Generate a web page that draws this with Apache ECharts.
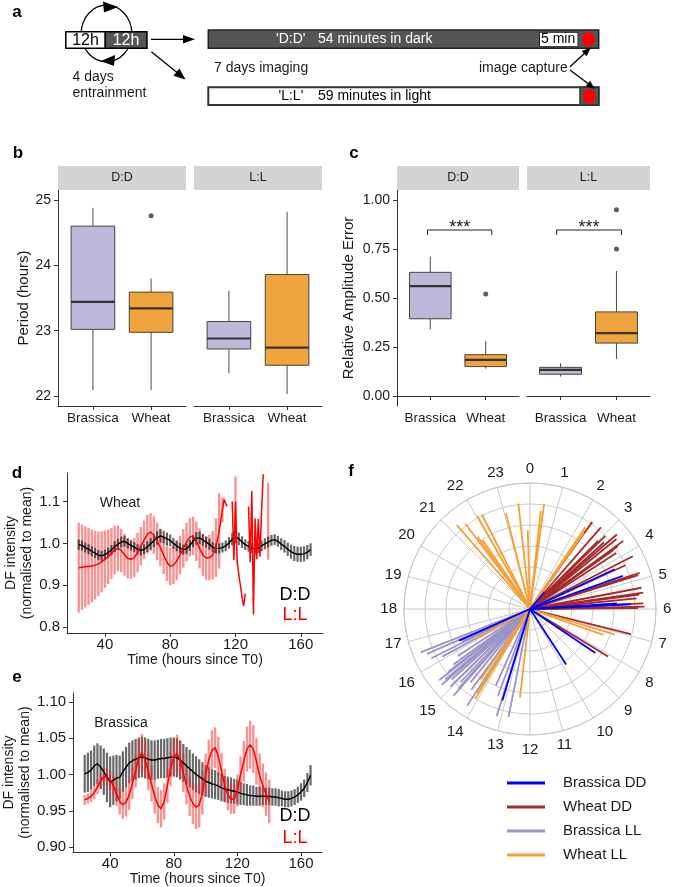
<!DOCTYPE html>
<html><head><meta charset="utf-8">
<script src="https://cdn.jsdelivr.net/npm/echarts@6/dist/echarts.min.js"></script>
<style>html,body{margin:0;padding:0;background:#fff}#c{width:685px;height:887px}</style>
</head><body><div id="c"></div>
<script>
const FONT = "'Liberation Sans', Arial, Helvetica, sans-serif";
const INK = '#1a1a1a';
const AXIS = '#333333';

// ---------- panel b / c : box plots ----------
const boxCats = ['Brassica', 'Wheat'];
const boxFills = ['#BEB7DA', '#EFA43E'];
// [category index, min, Q1, median, Q3, max]
const periodDD = [[1, 22.09, 23.02, 23.44, 24.60, 24.88], [2, 22.09, 22.975, 23.34, 23.59, 23.80]];
const periodLL = [[1, 22.35, 22.72, 22.88, 23.14, 23.61], [2, 22.03, 22.47, 22.74, 23.86, 24.82]];
const periodOutDD = [[2, 24.76]];
const raeDD = [[1, 0.340, 0.394, 0.561, 0.631, 0.711], [2, 0.139, 0.150, 0.184, 0.211, 0.281]];
const raeLL = [[1, 0.099, 0.111, 0.133, 0.146, 0.167], [2, 0.189, 0.270, 0.321, 0.429, 0.638]];
const raeOutDD = [[2, 0.52]];
const raeOutLL = [[2, 0.75], [2, 0.95]];
const sigDD = [[0.95, 2.11, 0.847]];
const sigLL = [[0.93, 2.09, 0.847]];
const sigLabel = '***';
const periodTicks = [22, 23, 24, 25];
const raeTicks = [0, 0.25, 0.5, 0.75, 1];

// ---------- panel d / e : time series [time, mean, error] ----------
const wheatDD = [[24,0.997,0.012],[26,0.995,0.012],[28,0.990,0.012],[30,0.986,0.012],[32,0.981,0.012],[34,0.977,0.012],[36,0.972,0.012],[38,0.970,0.012],[40,0.973,0.012],[42,0.978,0.012],[44,0.984,0.012],[46,0.992,0.013],[48,0.998,0.013],[50,1.003,0.013],[52,1.005,0.013],[54,1.000,0.012],[56,0.995,0.012],[58,0.991,0.012],[60,0.986,0.012],[62,0.983,0.012],[64,0.986,0.012],[66,0.992,0.013],[68,0.999,0.014],[70,1.006,0.015],[72,1.013,0.016],[74,1.018,0.016],[76,1.015,0.015],[78,1.011,0.015],[80,1.007,0.014],[82,1.000,0.013],[84,0.994,0.013],[86,0.989,0.012],[88,0.985,0.012],[90,0.987,0.012],[92,0.995,0.013],[94,1.005,0.014],[96,1.012,0.015],[98,1.013,0.015],[100,1.008,0.014],[102,1.003,0.013],[104,0.998,0.013],[106,0.991,0.012],[108,0.988,0.012],[110,0.988,0.012],[112,0.990,0.012],[114,0.994,0.013],[116,1.001,0.014],[118,1.010,0.015],[120,1.016,0.016],[122,1.011,0.015],[124,1.003,0.014],[126,0.997,0.013],[128,0.993,0.013],[130,0.989,0.012],[132,0.986,0.012],[134,0.989,0.012],[136,0.994,0.013],[138,0.999,0.013],[140,1.003,0.013],[142,1.007,0.013],[144,1.009,0.013],[146,1.005,0.013],[148,0.998,0.014],[150,0.993,0.015],[152,0.986,0.016],[154,0.980,0.017],[156,0.976,0.018],[158,0.974,0.018],[160,0.974,0.018],[162,0.975,0.018],[164,0.979,0.017],[166,0.985,0.015]];
const wheatLL = [[24,0.942,0.107],[26,0.943,0.102],[28,0.944,0.097],[30,0.945,0.092],[32,0.946,0.087],[34,0.948,0.082],[36,0.951,0.077],[38,0.956,0.073],[40,0.962,0.069],[42,0.968,0.065],[44,0.976,0.061],[46,0.984,0.058],[48,0.988,0.055],[50,0.983,0.052],[52,0.973,0.050],[54,0.964,0.048],[56,0.962,0.047],[58,0.966,0.047],[60,0.978,0.047],[62,0.993,0.046],[64,1.008,0.046],[66,1.022,0.046],[68,1.027,0.045],[70,1.020,0.045],[72,1.005,0.045],[74,0.990,0.045],[76,0.972,0.045],[78,0.955,0.045],[80,0.945,0.045],[82,0.948,0.045],[84,0.958,0.046],[86,0.972,0.046],[88,0.988,0.046],[90,1.003,0.046],[92,1.015,0.046],[94,1.018,0.046],[96,1.005,0.047],[98,0.988,0.048],[100,0.972,0.050],[102,0.965,0.052],[104,0.966,0.054],[106,0.972,0.058],[108,0.990,0.070],[110,1.030,0.090],[112,1.080,0.030],[113,1.105,0],[114,1.095,0],[115,1.088,0],[116,null,0],[118,1.100,0],[119,0.960,0],[120,1.100,0.060],[121,0.960,0],[122,0.925,0],[123,0.900,0],[124,0.872,0],[125,0.850,0],[126,0.880,0],[127,null,0],[128,1.088,0],[129,0.955,0],[130,1.125,0],[131,0.830,0],[132,1.060,0],[133,0.962,0],[134,1.058,0],[135,0.968,0],[136,1.080,0],[137,1.165,0],[138,null,0],[140,1.053,0.092]];
const brassicaDD = [[24,1.001,0.026],[26,1.003,0.027],[28,1.006,0.027],[30,1.012,0.028],[32,1.015,0.028],[34,1.010,0.030],[36,1.004,0.032],[38,0.996,0.034],[40,0.990,0.035],[42,0.992,0.034],[44,0.995,0.032],[46,0.996,0.030],[48,1.004,0.028],[50,1.010,0.028],[52,1.016,0.028],[54,1.019,0.028],[56,1.021,0.028],[58,1.023,0.028],[60,1.024,0.028],[62,1.023,0.028],[64,1.021,0.028],[66,1.020,0.027],[68,1.020,0.027],[70,1.021,0.027],[72,1.022,0.027],[74,1.022,0.027],[76,1.023,0.027],[78,1.024,0.027],[80,1.024,0.027],[82,1.023,0.027],[84,1.020,0.027],[86,1.016,0.026],[88,1.012,0.026],[90,1.008,0.026],[92,1.004,0.025],[94,1.000,0.025],[96,0.997,0.024],[98,0.994,0.023],[100,0.991,0.022],[102,0.989,0.021],[104,0.987,0.020],[106,0.986,0.020],[108,0.984,0.019],[110,0.982,0.019],[112,0.980,0.018],[114,0.979,0.018],[116,0.978,0.018],[118,0.977,0.017],[120,0.976,0.017],[122,0.974,0.016],[124,0.973,0.015],[126,0.972,0.015],[128,0.971,0.014],[130,0.971,0.014],[132,0.970,0.013],[134,0.970,0.013],[136,0.970,0.012],[138,0.970,0.012],[140,0.970,0.012],[142,0.969,0.012],[144,0.969,0.012],[146,0.968,0.012],[148,0.967,0.011],[150,0.966,0.011],[152,0.966,0.011],[154,0.967,0.011],[156,0.969,0.011],[158,0.972,0.011],[160,0.976,0.012],[162,0.981,0.012],[164,0.989,0.013],[166,0.999,0.014]];
const brassicaLL = [[24,0.965,0.007],[26,0.967,0.007],[28,0.970,0.008],[30,0.975,0.009],[32,0.983,0.010],[34,0.991,0.011],[36,0.997,0.012],[38,0.997,0.012],[40,0.992,0.013],[42,0.985,0.014],[44,0.973,0.016],[46,0.963,0.018],[48,0.958,0.019],[50,0.962,0.020],[52,0.972,0.021],[54,0.988,0.022],[56,1.005,0.023],[58,1.023,0.024],[60,1.030,0.026],[62,1.020,0.026],[64,1.004,0.025],[66,0.987,0.024],[68,0.970,0.024],[70,0.958,0.025],[72,0.953,0.026],[74,0.963,0.025],[76,0.985,0.024],[78,1.008,0.024],[80,1.024,0.025],[82,1.029,0.026],[84,1.020,0.026],[86,1.002,0.026],[88,0.985,0.026],[90,0.970,0.027],[92,0.960,0.028],[94,0.955,0.030],[96,0.958,0.031],[98,0.975,0.030],[100,1.000,0.029],[102,1.020,0.028],[104,1.033,0.028],[106,1.037,0.028],[108,1.025,0.027],[110,1.005,0.025],[112,0.985,0.023],[114,0.972,0.021],[116,0.966,0.020],[118,0.966,0.020],[120,0.978,0.022],[122,1.000,0.025],[124,1.018,0.028],[126,1.035,0.031],[128,1.041,0.033],[130,1.035,0.033],[132,1.018,0.032],[134,0.998,0.031],[136,0.985,0.030],[138,0.973,0.030],[140,0.963,0.030]];
const timeTicks = [40, 80, 120, 160];
const wheatYTicks = [0.8, 0.9, 1.0, 1.1];
const brassicaYTicks = [0.9, 0.95, 1.0, 1.05, 1.1];

// ---------- panel f : phase (hour) and amplitude ----------
const phaseBrassicaDD = [[2.7,0.21],[4.33,0.89],[4.69,0.94],[5.75,0.83],[5.82,0.96],[8.26,0.75],[9.79,0.63],[13.12,0.91],[16.4,0.74]];
const phaseWheatDD = [[2.37,1.02],[2.73,1.03],[3.0,0.92],[3.06,1.0],[3.2,0.95],[3.29,1.09],[3.4,1.06],[3.59,1.10],[3.63,1.03],[3.65,0.97],[3.8,0.98],[4.19,1.10],[4.36,1.0],[4.78,1.10],[4.8,1.03],[4.84,1.08],[5.28,1.08],[5.45,1.09],[5.5,1.05],[5.62,1.02],[5.81,1.08],[5.92,1.09],[5.97,1.03],[6.93,0.99],[8.09,0.87]];
const phaseBrassicaLL = [[12.75,1.05],[13.15,1.07],[13.35,0.88],[13.6,0.80],[14.2,1.10],[14.4,0.95],[14.6,0.90],[14.76,1.10],[14.8,1.02],[14.9,0.96],[15.05,1.06],[15.2,1.00],[15.29,1.11],[15.35,1.05],[15.46,1.10],[15.5,0.98],[15.6,0.90],[15.8,0.82],[16.1,0.95],[16.23,1.05],[16.3,0.72],[16.43,1.07],[16.56,1.12]];
const phaseWheatLL = [[21.26,1.06],[21.52,1.02],[21.6,0.85],[21.7,0.80],[22.03,1.02],[22.2,1.01],[23.06,0.94],[23.58,1.01],[23.89,0.75],[0.42,0.94],[0.51,1.01],[2.27,0.94],[2.35,0.89],[4.35,0.88],[7.11,0.84],[7.3,0.74],[12.43,0.85],[14.09,1.0],[14.15,0.95],[14.33,0.82],[16.07,0.60]];
const legendNames = ['Brassica DD', 'Wheat DD', 'Brassica LL', 'Wheat LL'];
const legendColors = ['#0000FF', '#A52A2A', '#9A92C8', '#F5A033'];

// ---------- render helpers ----------
function boxRender(params, api) {
  const x = api.value(0);
  const v = [1, 2, 3, 4, 5].map(i => api.value(i));
  const hw = api.size([0.75, 0])[0] / 2;
  const pMin = api.coord([x, v[0]]), pQ1 = api.coord([x, v[1]]), pMed = api.coord([x, v[2]]),
        pQ3 = api.coord([x, v[3]]), pMax = api.coord([x, v[4]]);
  return { type: 'group', children: [
    { type: 'line', shape: { x1: pMax[0], y1: pMax[1], x2: pQ3[0], y2: pQ3[1] }, style: { stroke: '#4a4a4a', lineWidth: 1 } },
    { type: 'line', shape: { x1: pQ1[0], y1: pQ1[1], x2: pMin[0], y2: pMin[1] }, style: { stroke: '#4a4a4a', lineWidth: 1 } },
    { type: 'rect', shape: { x: pQ3[0] - hw, y: pQ3[1], width: 2 * hw, height: pQ1[1] - pQ3[1] }, style: { fill: boxFills[Math.round(x) - 1], stroke: '#444', lineWidth: 1 } },
    { type: 'line', shape: { x1: pMed[0] - hw, y1: pMed[1], x2: pMed[0] + hw, y2: pMed[1] }, style: { stroke: '#333', lineWidth: 2.2 } }
  ]};
}
function bracketRender(params, api) {
  const a = api.coord([api.value(0), api.value(2)]);
  const b = api.coord([api.value(1), api.value(2)]);
  return { type: 'group', children: [
    { type: 'polyline', shape: { points: [[a[0], a[1] + 5], [a[0], a[1]], [b[0], b[1]], [b[0], b[1] + 5]] }, style: { stroke: '#222', lineWidth: 1, fill: null } },
    { type: 'text', x: (a[0] + b[0]) / 2, y: a[1] - 2, style: { text: sigLabel, fill: INK, font: '18px ' + FONT, align: 'center', verticalAlign: 'middle', textAlign: 'center', textVerticalAlign: 'middle' } }
  ]};
}
function makeErr(color, width) {
  return function (params, api) {
    const t = api.value(0), m = api.value(1), e = api.value(2);
    if (isNaN(m) || isNaN(e) || !(e > 0)) return null;
    const p1 = api.coord([t, m - e]), p2 = api.coord([t, m + e]);
    return { type: 'line', shape: { x1: p1[0], y1: p1[1], x2: p2[0], y2: p2[1] }, style: { stroke: color, lineWidth: width } };
  };
}
function spokeRender(params, api) {
  const h = api.value(0), a = api.value(1);
  const p0 = api.coord([0, h]), p1 = api.coord([a, h]);
  return { type: 'line', shape: { x1: p0[0], y1: p0[1], x2: p1[0], y2: p1[1] }, style: { stroke: api.visual('color'), lineWidth: 1.8 } };
}

// ---------- axes ----------
const axLine = { show: true, lineStyle: { color: AXIS, width: 1 } };
function boxX(gi) {
  return { type: 'value', gridIndex: gi, min: 0.4, max: 2.6, axisLine: axLine,
    axisTick: { show: true, customValues: [1, 2], length: 4, lineStyle: { color: AXIS } },
    axisLabel: { customValues: [1, 2], formatter: v => boxCats[Math.round(v) - 1], color: INK, fontSize: 13.5, fontFamily: FONT, margin: 5 },
    splitLine: { show: false } };
}
function valY(gi, min, max, ticks, fmt, show, name, gap, fs) {
  return { type: 'value', gridIndex: gi, min, max, show,
    axisLine: axLine,
    axisTick: { show: true, customValues: ticks, length: 4, lineStyle: { color: AXIS } },
    axisLabel: { customValues: ticks, formatter: fmt, color: INK, fontSize: fs, fontFamily: FONT, margin: 7 },
    splitLine: { show: false },
    name, nameLocation: 'middle', nameGap: gap,
    nameTextStyle: { color: INK, fontSize: name && name.indexOf('\n') >= 0 ? 14 : 15, fontFamily: FONT, lineHeight: 16 } };
}
function timeX(gi, min, max, gap) {
  return { type: 'value', gridIndex: gi, min, max, axisLine: axLine,
    axisTick: { show: true, customValues: timeTicks, length: 4, lineStyle: { color: AXIS } },
    axisLabel: { customValues: timeTicks, color: INK, fontSize: 15, fontFamily: FONT, margin: 4 },
    splitLine: { show: false },
    name: 'Time (hours since T0)', nameLocation: 'middle', nameGap: gap,
    nameTextStyle: { color: INK, fontSize: 14, fontFamily: FONT } };
}

// ---------- decorations (panel a schematic, strips, panel letters, labels) ----------
function txt(x, y, t, size, color, align, bold) {
  return { type: 'text', x, y, z: 10, style: { text: t, fill: color || INK,
    font: (bold ? 'bold ' : '') + size + 'px ' + FONT, align: align || 'left', textAlign: align || 'left',
    verticalAlign: 'middle', textVerticalAlign: 'middle' } };
}
function poly(points, fill) { return { type: 'polygon', z: 10, shape: { points }, style: { fill } }; }
function seg(x1, y1, x2, y2, w) { return { type: 'line', z: 10, shape: { x1, y1, x2, y2 }, style: { stroke: '#000', lineWidth: w || 1.3 } }; }
function box(x, y, w, h, fill, stroke, lw) { return { type: 'rect', z: 9, shape: { x, y, width: w, height: h }, style: { fill, stroke, lineWidth: lw } }; }

const deco = [
  // panel letters
  txt(17, 12, 'a', 17, '#000', 'center', true),
  txt(18, 153, 'b', 17, '#000', 'center', true),
  txt(354, 153, 'c', 17, '#000', 'center', true),
  txt(17, 473, 'd', 17, '#000', 'center', true),
  txt(17, 677, 'e', 17, '#000', 'center', true),
  txt(351, 471, 'f', 17, '#000', 'center', true),
  // panel a: entrainment loop
  { type: 'ellipse', z: 8, shape: { cx: 106.5, cy: 33.5, rx: 25.3, ry: 28.3 }, style: { fill: null, stroke: '#000', lineWidth: 1.2 } },
  poly([[103, 1.5], [104, 12.5], [118, 7]], '#000'),
  poly([[115, 55], [114, 66], [101, 61]], '#000'),
  box(65.8, 31.7, 39.5, 16.6, '#fff', '#000', 1.5),
  box(105.3, 31.7, 41.7, 16.6, '#555', '#000', 1.5),
  txt(85.5, 40.5, '12h', 16, '#000', 'center'),
  txt(126, 40.5, '12h', 16, '#fff', 'center'),
  txt(72.5, 76.7, '4 days', 14, INK),
  txt(72.5, 93.3, 'entrainment', 14, INK),
  seg(151, 39.3, 186, 39.3),
  poly([[183, 35], [183, 43.6], [195, 39.3]], '#000'),
  seg(151.3, 51.7, 178, 73.3),
  poly([[173.4, 75.8], [179.4, 68.4], [185.5, 79.5]], '#000'),
  // D:D bar
  box(208.3, 30, 390.4, 18.3, '#555', '#222', 1.5),
  box(539.5, 32.3, 38.5, 14.4, '#fff', '#222', 1),
  { type: 'ellipse', z: 10, shape: { cx: 588.5, cy: 39.2, rx: 6.3, ry: 7.3 }, style: { fill: '#FF0000' } },
  txt(276, 39.5, "'D:D'", 14, '#fff'),
  txt(318, 39.5, '54 minutes in dark', 14, '#fff'),
  txt(541, 39.5, '5 min', 14, '#000'),
  // L:L bar
  box(208.3, 87.3, 390.4, 17.7, '#fff', '#333', 2),
  box(580, 87.3, 18.7, 17.7, '#555', '#333', 1.5),
  { type: 'ellipse', z: 10, shape: { cx: 589.3, cy: 96.2, rx: 6.3, ry: 7.3 }, style: { fill: '#FF0000' } },
  txt(278.5, 96.2, "'L:L'", 14, '#000'),
  txt(318, 96.2, '59 minutes in light', 14, '#000'),
  txt(214, 68.3, '7 days imaging', 14, INK),
  txt(479, 68.3, 'image capture', 14, INK),
  seg(570, 66.7, 586, 52),
  poly([[586.5, 56.3], [581.7, 51.1], [591, 47.5]], '#000'),
  seg(570, 70, 589, 84.3),
  poly([[585.8, 86.3], [590, 80.7], [595, 89]], '#000'),
  // strips
  box(58, 166, 128, 24, '#D3D3D3', null, 0), txt(122, 178, 'D:D', 12.5, INK, 'center'),
  box(194, 166, 128, 24, '#D3D3D3', null, 0), txt(258, 178, 'L:L', 12.5, INK, 'center'),
  box(397, 166, 122, 24, '#D3D3D3', null, 0), txt(458, 178, 'D:D', 12.5, INK, 'center'),
  box(527, 166, 123, 24, '#D3D3D3', null, 0), txt(588.5, 178, 'L:L', 12.5, INK, 'center'),
  // panel d / e annotations
  txt(120, 503, 'Wheat', 14, INK, 'center'),
  txt(295, 595, 'D:D', 18, '#000', 'center'),
  txt(295, 615, 'L:L', 18, '#FF0000', 'center'),
  txt(121, 723, 'Brassica', 14, INK, 'center'),
  txt(295, 816, 'D:D', 18, '#000', 'center'),
  txt(295, 838, 'L:L', 18, '#FF0000', 'center')
];

const pairs = arr => arr.map(d => [d[0], d[1]]);
const redErr = 'rgba(242,40,40,0.5)';
const blackErr = 'rgba(25,25,25,0.65)';

const option = {
  animation: false,
  backgroundColor: '#fff',
  textStyle: { fontFamily: FONT },
  grid: [
    { left: 58, top: 190, width: 128, height: 216 },
    { left: 194, top: 190, width: 128, height: 216 },
    { left: 397, top: 190, width: 122, height: 216 },
    { left: 527, top: 190, width: 123, height: 216 },
    { left: 67, top: 473, width: 256, height: 160 },
    { left: 64, top: 693, width: 258, height: 161 }
  ],
  xAxis: [boxX(0), boxX(1), boxX(2), boxX(3), timeX(4, 16.8, 173.6, 17), timeX(5, 16.7, 173.2, 18)],
  yAxis: [
    valY(0, 21.847, 25.153, periodTicks, v => String(v), true, 'Period (hours)', 26, 14),
    valY(1, 21.847, 25.153, periodTicks, v => String(v), false, '', 0, 14),
    valY(2, -0.051, 1.051, raeTicks, v => v.toFixed(2), true, 'Relative Amplitude Error', 40, 14),
    valY(3, -0.051, 1.051, raeTicks, v => v.toFixed(2), false, '', 0, 14),
    valY(4, 0.786, 1.168, wheatYTicks, v => v.toFixed(1), true, 'DF intensity\n(normalised to mean)', 32, 15),
    valY(5, 0.8932, 1.1122, brassicaYTicks, v => v.toFixed(2), true, 'DF intensity\n(normalised to mean)', 31, 15)
  ],
  polar: { center: [530, 609], radius: 126 },
  angleAxis: { type: 'value', min: 0, max: 24, interval: 1, startAngle: 90, clockwise: true,
    axisLine: { show: true, lineStyle: { color: '#C8C8C8', width: 1 } },
    axisTick: { show: false },
    splitLine: { show: true, lineStyle: { color: '#C8C8C8', width: 1 } },
    axisLabel: { formatter: v => (v >= 24 ? '' : String(v)), color: INK, fontSize: 15, fontFamily: FONT, margin: 7 } },
  radiusAxis: { type: 'value', min: 0, max: 1.2, interval: 0.2,
    axisLine: { show: false }, axisTick: { show: false }, axisLabel: { show: false },
    splitLine: { show: true, lineStyle: { color: '#C8C8C8', width: 1 } } },
  legend: { orient: 'vertical', left: 502, top: 769, itemWidth: 38, itemHeight: 3, itemGap: 6, icon: 'rect',
    selectedMode: false, data: legendNames,
    textStyle: { fontSize: 15, color: INK, fontFamily: FONT, lineHeight: 18, padding: [0, 0, 0, 13] } },
  graphic: { elements: deco },
  series: [
    // b
    { type: 'custom', xAxisIndex: 0, yAxisIndex: 0, data: periodDD, renderItem: boxRender, encode: { x: 0, y: [1, 2, 3, 4, 5] } },
    { type: 'scatter', xAxisIndex: 0, yAxisIndex: 0, data: periodOutDD, symbolSize: 5, itemStyle: { color: '#333' } },
    { type: 'custom', xAxisIndex: 1, yAxisIndex: 1, data: periodLL, renderItem: boxRender, encode: { x: 0, y: [1, 2, 3, 4, 5] } },
    // c
    { type: 'custom', xAxisIndex: 2, yAxisIndex: 2, data: raeDD, renderItem: boxRender, encode: { x: 0, y: [1, 2, 3, 4, 5] } },
    { type: 'scatter', xAxisIndex: 2, yAxisIndex: 2, data: raeOutDD, symbolSize: 5, itemStyle: { color: '#333' } },
    { type: 'custom', xAxisIndex: 2, yAxisIndex: 2, data: sigDD, renderItem: bracketRender, encode: { x: [0, 1], y: 2 } },
    { type: 'custom', xAxisIndex: 3, yAxisIndex: 3, data: raeLL, renderItem: boxRender, encode: { x: 0, y: [1, 2, 3, 4, 5] } },
    { type: 'scatter', xAxisIndex: 3, yAxisIndex: 3, data: raeOutLL, symbolSize: 5, itemStyle: { color: '#333' } },
    { type: 'custom', xAxisIndex: 3, yAxisIndex: 3, data: sigLL, renderItem: bracketRender, encode: { x: [0, 1], y: 2 } },
    // d
    { type: 'custom', xAxisIndex: 4, yAxisIndex: 4, data: wheatLL, renderItem: makeErr(redErr, 2.4), encode: { x: 0, y: 1 }, clip: true },
    { type: 'custom', xAxisIndex: 4, yAxisIndex: 4, data: wheatDD, renderItem: makeErr(blackErr, 2.2), encode: { x: 0, y: 1 }, clip: true },
    { type: 'line', xAxisIndex: 4, yAxisIndex: 4, data: pairs(wheatDD), showSymbol: false, lineStyle: { color: '#000', width: 1.4 }, itemStyle: { color: '#000' }, connectNulls: false },
    { type: 'line', xAxisIndex: 4, yAxisIndex: 4, data: pairs(wheatLL), showSymbol: false, lineStyle: { color: '#FF0000', width: 1.5 }, itemStyle: { color: '#FF0000' }, connectNulls: false },
    // e
    { type: 'custom', xAxisIndex: 5, yAxisIndex: 5, data: brassicaDD, renderItem: makeErr(blackErr, 2.2), encode: { x: 0, y: 1 }, clip: true },
    { type: 'custom', xAxisIndex: 5, yAxisIndex: 5, data: brassicaLL, renderItem: makeErr(redErr, 2.4), encode: { x: 0, y: 1 }, clip: true },
    { type: 'line', xAxisIndex: 5, yAxisIndex: 5, data: pairs(brassicaDD), showSymbol: false, lineStyle: { color: '#000', width: 1.4 }, itemStyle: { color: '#000' } },
    { type: 'line', xAxisIndex: 5, yAxisIndex: 5, data: pairs(brassicaLL), showSymbol: false, lineStyle: { color: '#FF0000', width: 1.5 }, itemStyle: { color: '#FF0000' } },
    // f
    { type: 'custom', name: legendNames[2], coordinateSystem: 'polar', data: phaseBrassicaLL, renderItem: spokeRender, encode: { angle: 0, radius: 1 }, itemStyle: { color: legendColors[2] } },
    { type: 'custom', name: legendNames[1], coordinateSystem: 'polar', data: phaseWheatDD, renderItem: spokeRender, encode: { angle: 0, radius: 1 }, itemStyle: { color: legendColors[1] } },
    { type: 'custom', name: legendNames[3], coordinateSystem: 'polar', data: phaseWheatLL, renderItem: spokeRender, encode: { angle: 0, radius: 1 }, itemStyle: { color: legendColors[3] } },
    { type: 'custom', name: legendNames[0], coordinateSystem: 'polar', data: phaseBrassicaDD, renderItem: spokeRender, encode: { angle: 0, radius: 1 }, itemStyle: { color: legendColors[0] } }
  ]
};
const chart = echarts.init(document.getElementById('c'), null, { renderer: 'canvas' });
chart.setOption(option);
</script></body></html>
